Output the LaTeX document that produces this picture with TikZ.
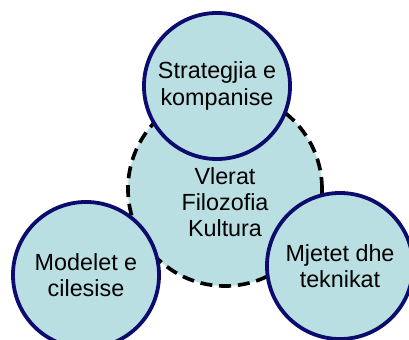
\documentclass[tikz,border=0pt]{standalone}
\usepackage{fontspec}
\setmainfont{Liberation Sans}
\definecolor{bubblefill}{RGB}{186,223,226}
\definecolor{bubbleline}{RGB}{12,12,110}
\begin{document}
\begin{tikzpicture}[x=0.025cm, y=-0.025cm,
  bubble/.style={circle, draw=bubbleline, fill=bubblefill, line width=2.7pt,
    minimum size=3.65cm, inner sep=0pt, align=center,
    font=\fontsize{16.6}{18.6}\selectfont},
  core/.style={circle, draw=black, fill=bubblefill, line width=2.6pt,
    dash pattern=on 0.3cm off 0.17cm, minimum size=4.85cm, inner sep=0pt},
  coretext/.style={align=center, font=\fontsize{16.6}{18.6}\selectfont}]
  \useasboundingbox (0,0) rectangle (409,340);
  \clip (0,0) rectangle (409,340);
  \node[core] (core) at (225,189) {};
  \node[coretext] (corelabel) at (225,202) {Vlerat\\Filozofia\\Kultura};
  \node[bubble] (strategy) at (217,86) {Strategjia e\\kompanise};
  \node[bubble] (models) at (86,275) {Modelet e\\cilesise};
  \node[bubble] (tools) at (340,266) {Mjetet dhe\\teknikat};
\end{tikzpicture}
\end{document}
